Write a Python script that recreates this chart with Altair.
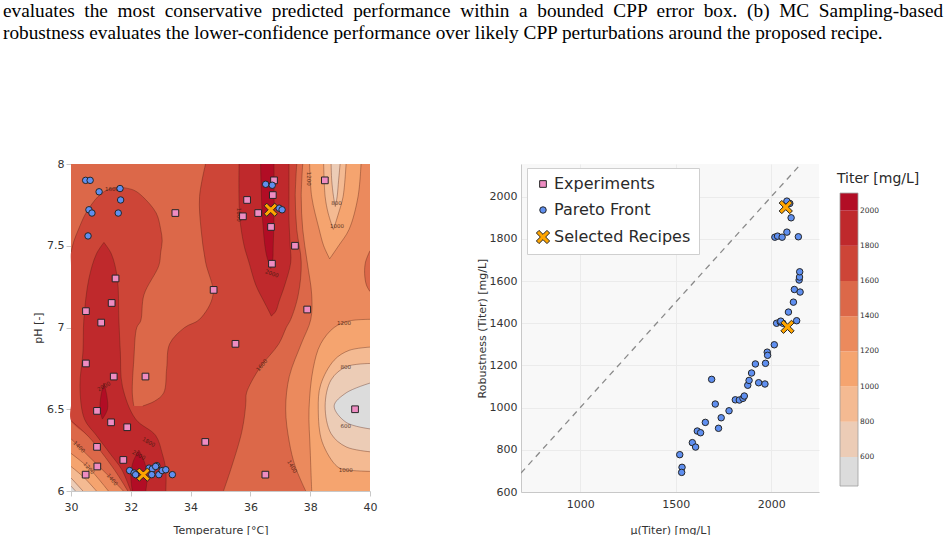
import altair as alt
import pandas as pd

FONT = "DejaVu Sans"

# Caption lines; the first line is set with wider word gaps (four-per-em
# spaces) so that it runs the full width like a justified paragraph line.
GAP = " \u2005"
CAPTION = [
    GAP.join("evaluates the most conservative predicted performance within a bounded "
             "CPP error box. (b) MC Sampling-based".split(" ")),
    "robustness evaluates the lower-confidence performance over likely CPP perturbations around the proposed recipe.",
]

# Titer colour bands [mg/L]
LEVELS = [0, 1, 2, 3, 4, 5, 6, 7, 8]
BAND_LOW = [435, 600, 800, 1000, 1200, 1400, 1600, 1800, 2000]
BAND_HIGH = [600, 800, 1000, 1200, 1400, 1600, 1800, 2000, 2100]
BAND_COLORS = ["#dcdcdc", "#ecccb6", "#f4ba92", "#f5a46f", "#eb8a5d",
               "#dc6849", "#cd4537", "#bf292c", "#b20d25"]
BAND_TICKS = [600, 800, 1000, 1200, 1400, 1600, 1800, 2000]

# Predicted titer surface over (Temperature, pH): each region is a band of
# constant level, given row by row as pH with its temperature extent.
# Regions are painted in order (lower bands first on the edges, peaks last).
REGIONS = [
    ("r4_right", 4, [6.0, 6.15, 6.3, 6.5, 6.7, 6.9, 7.05, 7.2, 7.4, 7.6, 7.8, 8.0],
     [37.85, 37.5, 37.3, 37.18, 37.3, 37.7, 38.02, 38.05, 37.9, 37.75, 37.7, 37.75],
     [40, 40, 40, 40, 40, 40, 40, 40, 40, 40, 40, 40]),
    ("r4_corner", 4, [6.0, 6.07, 6.27, 6.32],
     [30, 30, 30, 30], [31.75, 31.38, 30.27, 30.0]),
    ("r3_basin", 3, [6.0, 6.25, 6.5, 6.75, 6.9, 7.0, 7.04, 7.05],
     [38.05, 38.0, 37.96, 38.1, 38.35, 38.8, 39.3, 40],
     [40, 40, 40, 40, 40, 40, 40, 40]),
    ("r3_top", 3, [7.42, 7.5, 7.6, 7.8, 8.0],
     [38.65, 38.45, 38.3, 38.05, 37.98], [38.65, 38.95, 39.3, 39.6, 39.7]),
    ("r3_corner", 3, [6.0, 6.14, 6.23], [30, 30, 30], [31.25, 30.6, 30.0]),
    ("r2_basin", 2, [6.12, 6.13, 6.15, 6.3, 6.5, 6.65, 6.8, 6.86, 6.88],
     [40, 39.2, 38.9, 38.4, 38.27, 38.35, 38.8, 39.3, 40],
     [40, 40, 40, 40, 40, 40, 40, 40, 40]),
    ("r2_top", 2, [7.6, 7.7, 7.8, 8.0],
     [38.77, 38.6, 38.5, 38.45], [38.78, 38.95, 39.1, 39.2]),
    ("r2_corner", 2, [6.0, 6.08, 6.15], [30, 30, 30], [30.85, 30.45, 30.0]),
    ("r1_basin", 1, [6.24, 6.27, 6.35, 6.52, 6.68, 6.76, 6.78],
     [40, 39.2, 38.7, 38.5, 38.7, 39.2, 40], [40, 40, 40, 40, 40, 40, 40]),
    ("r1_top", 1, [7.74, 7.8, 7.9, 8.0],
     [38.84, 38.78, 38.72, 38.7], [38.84, 38.9, 38.95, 39.0]),
    ("r1_corner", 1, [6.0, 6.08], [30, 30], [30.4, 30.0]),
    ("r0_basin", 0, [6.38, 6.42, 6.52, 6.6, 6.66],
     [40, 39.2, 38.8, 39.2, 40], [40, 40, 40, 40, 40]),
    ("r0_corner", 0, [6.0, 6.03], [30, 30], [30.15, 30.0]),
    ("r5_edge", 5, [7.22, 7.26, 7.33, 7.4, 7.47],
     [40, 39.88, 39.82, 39.85, 40], [40, 40, 40, 40, 40]),
    ("r6_left", 6, [6.52, 6.6, 6.8, 7.0, 7.04, 7.2, 7.38, 7.46, 7.53, 7.6, 7.7, 7.8, 7.84, 7.86],
     [30, 30, 30, 30, 30, 30, 30, 30, 30.1, 30.25, 30.5, 30.9, 31.2, 31.6],
     [32.1, 32.05, 32.1, 32.2, 32.33, 32.44, 32.94, 33.0, 33.05, 33.0, 32.85, 32.4, 32.1, 31.6]),
    ("r6_ridge", 6, [6.52, 6.55, 6.6, 6.75, 6.9, 7.0, 7.05, 7.2, 7.4, 7.6, 7.8, 8.0],
     [32.4, 32.8, 33.1, 33.2, 33.3, 33.8, 34.3, 34.75, 34.5, 34.35, 34.3, 34.5],
     [35.84, 35.85, 35.87, 36.3, 36.95, 37.2, 37.35, 37.6, 37.7, 37.55, 37.5, 37.55]),
    ("r6_bottom", 6, [6.0, 6.13, 6.33, 6.43, 6.52],
     [31.9, 31.45, 30.6, 30.0, 30.0], [35.1, 35.34, 35.67, 35.78, 35.84]),
    ("r7_left", 7, [6.0, 6.13, 6.23, 6.34, 6.44, 6.64, 6.85, 7.05, 7.3, 7.45, 7.52],
     [32.0, 31.7, 31.3, 30.85, 30.45, 30.3, 30.4, 30.43, 30.6, 30.85, 31.1],
     [33.17, 33.17, 33.05, 32.83, 32.16, 31.72, 31.65, 31.6, 31.55, 31.35, 31.1]),
    ("r7_ridge", 7, [7.07, 7.1, 7.16, 7.26, 7.4, 7.5, 7.66, 7.78, 8.0],
     [36.7, 36.62, 36.45, 36.18, 35.95, 35.79, 35.65, 35.62, 35.62],
     [36.7, 36.85, 36.96, 37.15, 37.35, 37.33, 37.29, 37.29, 37.29]),
    ("r8_ridge", 8, [7.36, 7.42, 7.48, 7.68, 8.0],
     [36.68, 36.57, 36.5, 36.4, 36.34], [36.68, 36.75, 36.76, 36.79, 36.79]),
    ("r8_spot", 8, [6.44, 6.5, 6.58, 6.66],
     [31.05, 30.97, 31.0, 31.1], [31.05, 31.22, 31.2, 31.1]),
    ("r8_bottom", 8, [6.0, 6.1, 6.18, 6.25],
     [32.05, 32.0, 32.08, 32.27], [32.5, 32.55, 32.45, 32.27]),
]

# Inline contour labels
CLABEL_T = [31.37, 35.62, 36.72, 37.96, 38.88, 38.9, 39.13, 39.19, 39.19, 39.19,
            37.4, 36.38, 31.1, 32.6, 32.27, 30.27, 30.6, 31.38]
CLABEL_PH = [7.85, 7.69, 7.33, 7.91, 7.76, 7.62, 7.03, 6.76, 6.40, 6.13,
             6.15, 6.77, 6.64, 6.30, 6.22, 6.27, 6.14, 6.07]
CLABEL_TEXT = ["1600", "1800", "2000", "1200", "800", "1000", "1200", "800", "600", "1000",
               "1400", "1600", "2000", "1800", "2000", "1400", "1200", "1400"]
CLABEL_ANGLE = [0, 90, 20, 90, 0, 0, 0, 0, 0, 0,
                60, 310, 330, 30, 30, 45, 50, 50]

# Experiments in the design space
EXP_T = [33.49, 36.79, 35.89, 36.75, 35.75, 36.26, 36.69, 37.49, 36.72, 31.49,
         34.77, 31.36, 30.50, 31.01, 37.90, 38.49, 35.50, 30.50, 31.43, 32.49,
         30.87, 31.34, 31.88, 34.49, 30.87, 31.75, 30.88, 30.49, 36.50, 39.50]
EXP_PH = [7.70, 7.90, 7.78, 7.81, 7.68, 7.70, 7.615, 7.50, 7.39, 7.30,
          7.23, 7.15, 7.10, 7.03, 7.11, 7.90, 6.90, 6.78, 6.70, 6.70,
          6.49, 6.42, 6.39, 6.30, 6.27, 6.19, 6.15, 6.10, 6.10, 6.50]

# Pareto-optimal recipes in the design space
PARETO_T = [30.49, 30.64, 30.94, 31.64, 31.66, 30.60, 30.70, 31.58, 30.57,
            36.51, 36.73, 36.96, 37.06,
            31.96, 32.11, 32.16, 32.61, 32.72, 32.87, 32.94, 33.05, 33.17, 33.39, 32.70, 32.83]
PARETO_PH = [7.90, 7.90, 7.83, 7.85, 7.78, 7.72, 7.70, 7.70, 7.56,
             7.876, 7.87, 7.73, 7.72,
             6.125, 6.11, 6.10, 6.14, 6.135, 6.155, 6.10, 6.125, 6.13, 6.10, 6.10, 6.15]
SEL_T = [36.68, 32.42]
SEL_PH = [7.72, 6.10]

# Pareto front in objective space: mean titer vs robustness
PARETO_MU = [1521, 1533, 1531, 1587, 1604, 1613, 1630, 1655, 1688, 1707, 1724, 1738,
             1779, 1812, 1833, 1852, 1859, 1877, 1884, 1897, 1917, 1934, 1967, 1970,
             1979, 1981, 2016, 2028, 2047, 2061, 2090, 2116, 2133, 2121, 2151, 2146,
             2148, 2149, 2019, 2033, 2057, 2082, 2142, 2104, 2085, 2097, 2082, 2050]
PARETO_ROB = [777, 717, 693, 834, 813, 889, 881, 930, 1134, 1017, 902, 952,
              985, 1037, 1036, 1044, 1055, 1106, 1129, 1164, 1207, 1118, 1112, 1210,
              1263, 1248, 1298, 1400, 1407, 1400, 1453, 1500, 1412, 1560, 1548, 1605,
              1619, 1644, 1808, 1813, 1808, 1832, 1810, 1900, 1971, 1968, 1979, 1410]
SEL_MU = [2076, 2085]
SEL_ROB = [1951, 1383]
DIAG = [690, 2155]

KINDS = ["Experiments", "Pareto Front", "Selected Recipes"]
KIND_COLORS = ["#ee8cc2", "#5f8ff0", "#ffa500"]
X_PATH = "M-1,-0.6L-0.6,-1L0,-0.4L0.6,-1L1,-0.6L0.4,0L1,0.6L0.6,1L0,0.4L-0.6,1L-1,0.6L-0.4,0Z"
KIND_SHAPES = ["square", "circle", X_PATH]
KIND_SIZES = [45, 42, 175]

# ---------------------------------------------------------------- data frames
rows, line_rows = [], []
for k, (name, level, ph, lo, hi) in enumerate(REGIONS):
    for p, a, b in zip(ph, lo, hi):
        rows.append(dict(region=name, paint=k, level=level, ph=p, t_lo=a, t_hi=b))
    # contour lines along the region sides that are not on the plot border
    for side, ts, edge in (("lo", lo, 30.0), ("hi", hi, 40.0)):
        n = len(ts)
        inner = [abs(t - edge) > 1e-9 for t in ts]
        keep = [inner[i] or (i > 0 and inner[i - 1]) or (i < n - 1 and inner[i + 1])
                for i in range(n)]
        seg = 0
        for i in range(n):
            if keep[i]:
                line_rows.append(dict(seg=f"{name}_{side}_{seg}", ph=ph[i], t=ts[i]))
            elif i > 0 and keep[i - 1]:
                seg += 1
surface = pd.DataFrame(rows)
contours = pd.DataFrame(line_rows)
frame = pd.DataFrame({"t0": [30], "t1": [40], "p0": [6], "p1": [8], "level": [5]})
clabels = pd.DataFrame({"t": CLABEL_T, "ph": CLABEL_PH, "txt": CLABEL_TEXT, "ang": CLABEL_ANGLE})

design_pts = pd.concat([
    pd.DataFrame({"t": EXP_T, "ph": EXP_PH, "kind": KINDS[0]}),
    pd.DataFrame({"t": PARETO_T, "ph": PARETO_PH, "kind": KINDS[1]}),
    pd.DataFrame({"t": SEL_T, "ph": SEL_PH, "kind": KINDS[2]}),
], ignore_index=True)
objective_pts = pd.concat([
    pd.DataFrame({"mu": PARETO_MU, "rob": PARETO_ROB, "kind": KINDS[1]}),
    pd.DataFrame({"mu": SEL_MU, "rob": SEL_ROB, "kind": KINDS[2]}),
], ignore_index=True)
diag = pd.DataFrame({"mu": DIAG, "rob": DIAG})
bands = pd.DataFrame({"lo": BAND_LOW, "hi": BAND_HIGH, "level": LEVELS})
band_ticks = pd.DataFrame({"v": BAND_TICKS, "txt": [str(v) for v in BAND_TICKS]})

# ---------------------------------------------------------------- scales
level_fill = alt.Scale(domain=LEVELS, range=BAND_COLORS)
t_scale = alt.Scale(domain=[30, 40], nice=False, zero=False)
ph_scale = alt.Scale(domain=[6, 8], nice=False, zero=False)
kind_color = alt.Scale(domain=KINDS, range=KIND_COLORS)
kind_shape = alt.Scale(domain=KINDS, range=KIND_SHAPES)
kind_size = alt.Scale(type="ordinal", domain=KINDS, range=KIND_SIZES)

t_axis = alt.Axis(values=[30, 32, 34, 36, 38, 40], title="Temperature [°C]",
                  tickSize=5, labelPadding=5, titlePadding=12, grid=False)
ph_axis = alt.Axis(values=[6, 6.5, 7, 7.5, 8], format="~g", title="pH [-]",
                   tickSize=5, labelPadding=2, minExtent=25, maxExtent=25,
                   titlePadding=3, grid=False)

# ---------------------------------------------------------------- (a) design space
base_rect = alt.Chart(frame).mark_rect().encode(
    x=alt.X("t0:Q", scale=t_scale, axis=t_axis),
    x2="t1:Q",
    y=alt.Y("p0:Q", scale=ph_scale, axis=ph_axis),
    y2="p1:Q",
    fill=alt.Fill("level:O", scale=level_fill, legend=None),
)

area_layers = []
for k, (name, level, _, _, _) in enumerate(REGIONS):
    area_layers.append(
        alt.Chart(surface).transform_filter(alt.datum.paint == k)
        .mark_area(orient="horizontal", interpolate="catmull-rom",
                   fill=BAND_COLORS[level], opacity=1)
        .encode(
            y=alt.Y("ph:Q", scale=ph_scale),
            x=alt.X("t_lo:Q", scale=t_scale),
            x2=alt.X2("t_hi:Q"),
        )
    )

contour_lines = alt.Chart(contours).mark_line(
    interpolate="catmull-rom", color="#4f1c12", strokeWidth=0.6, opacity=0.6, clip=True
).encode(
    x=alt.X("t:Q", scale=t_scale),
    y=alt.Y("ph:Q", scale=ph_scale),
    detail="seg:N",
    order=alt.Order("ph:Q"),
)

contour_text = alt.Chart(clabels).mark_text(
    font=FONT, fontSize=5.5, color="#3a1a10", opacity=0.8
).encode(
    x=alt.X("t:Q", scale=t_scale),
    y=alt.Y("ph:Q", scale=ph_scale),
    text="txt:N",
    angle=alt.Angle("ang:Q", scale=None),
)

design_marks = alt.Chart(design_pts).mark_point(
    filled=True, opacity=1, stroke="#262626", strokeWidth=1
).encode(
    x=alt.X("t:Q", scale=t_scale),
    y=alt.Y("ph:Q", scale=ph_scale),
    color=alt.Color("kind:N", scale=kind_color, legend=None),
    shape=alt.Shape("kind:N", scale=kind_shape, legend=None),
    size=alt.Size("kind:N", scale=kind_size, legend=None),
)

panel_a = alt.layer(base_rect, *area_layers, contour_lines, contour_text, design_marks).properties(
    width=299, height=327
)

# ---------------------------------------------------------------- (b) objective space
mu_scale = alt.Scale(domain=[690, 2250], nice=False, zero=False)
rob_scale = alt.Scale(domain=[600, 2155], nice=False, zero=False)
mu_axis = alt.Axis(values=[1000, 1500, 2000], format="d", title="μ(Titer) [mg/L]",
                   ticks=False, tickSize=0, labelPadding=6, titlePadding=15,
                   grid=True, gridColor="#ebebeb")
rob_axis = alt.Axis(values=[600, 800, 1000, 1200, 1400, 1600, 1800, 2000], format="d",
                    title="Robustness (Titer) [mg/L]", ticks=False, tickSize=0,
                    labelPadding=4, minExtent=34, maxExtent=34, titlePadding=0,
                    grid=True, gridColor="#ebebeb")

diag_line = alt.Chart(diag).mark_line(
    color="#8a8a8a", strokeDash=[6, 5], strokeWidth=1.3, clip=True
).encode(
    x=alt.X("mu:Q", scale=mu_scale, axis=mu_axis),
    y=alt.Y("rob:Q", scale=rob_scale, axis=rob_axis),
)

legend = alt.Legend(
    title=None, orient="none", legendX=6, legendY=4, fillColor="white",
    strokeColor="#cfcfcf", padding=8, labelFont=FONT, labelFontSize=16,
    labelColor="#2a2a2a", rowPadding=10, labelOffset=3,
    symbolStrokeColor="#262626", symbolStrokeWidth=1,
)
objective_marks = alt.Chart(objective_pts).mark_point(
    filled=True, opacity=1, stroke="#262626", strokeWidth=1
).encode(
    x=alt.X("mu:Q", scale=mu_scale),
    y=alt.Y("rob:Q", scale=rob_scale),
    color=alt.Color("kind:N", scale=kind_color, legend=legend),
    shape=alt.Shape("kind:N", scale=kind_shape, legend=legend),
    size=alt.Size("kind:N", scale=kind_size, legend=legend),
)

panel_b = alt.layer(diag_line, objective_marks).properties(
    width=298, height=328,
    view=alt.ViewBackground(fill="#f8f8f8", stroke=None),
)

# ---------------------------------------------------------------- colour bar
cb_scale = alt.Scale(domain=[401, 2265], nice=False, zero=False)
cb_rects = alt.Chart(bands).mark_rect().encode(
    y=alt.Y("lo:Q", scale=cb_scale, axis=None),
    y2="hi:Q",
    x=alt.value(3), x2=alt.value(21),
    fill=alt.Fill("level:O", scale=level_fill, legend=None),
)
cb_frame = alt.Chart(pd.DataFrame({"lo": [BAND_LOW[0]], "hi": [BAND_HIGH[-1]]})).mark_rect(
    fill=None, stroke="#a0a0a0", strokeWidth=0.8
).encode(
    y=alt.Y("lo:Q", scale=cb_scale, axis=None), y2="hi:Q",
    x=alt.value(3), x2=alt.value(21),
)
cb_labels = alt.Chart(band_ticks).mark_text(
    align="left", baseline="middle", font=FONT, fontSize=7.5, color="#333"
).encode(
    y=alt.Y("v:Q", scale=cb_scale, axis=None), x=alt.value(23), text="txt:N",
)
cb_title = alt.Chart(pd.DataFrame({"txt": ["Titer [mg/L]"]})).mark_text(
    align="left", baseline="middle", font=FONT, fontSize=14, color="#2a2a2a"
).encode(x=alt.value(0), y=alt.value(15), text="txt:N")

colorbar = alt.layer(cb_rects, cb_frame, cb_labels, cb_title).properties(width=100, height=328)

# ---------------------------------------------------------------- assemble
chart = alt.hconcat(
    panel_a,
    alt.hconcat(panel_b, colorbar, spacing=18),
    spacing=99,
).resolve_scale(
    color="independent", shape="independent", size="independent", fill="independent"
).resolve_legend(
    color="independent", shape="independent", size="independent", fill="independent"
).properties(
    title=alt.TitleParams(
        text=CAPTION, anchor="start", font="Liberation Serif", fontSize=19.3,
        fontWeight="normal", color="#000000", lineHeight=22, offset=115, dx=-29,
    ),
    padding={"left": 3, "top": 1, "right": 0, "bottom": 0},
).configure_view(
    stroke=None
).configure_axis(
    labelFont=FONT, titleFont=FONT, labelFontSize=11, titleFontSize=11,
    titleFontWeight="normal", labelColor="#333333", titleColor="#333333",
    domainColor="#c8c8c8", tickColor="#c8c8c8", labelFlush=False,
)

chart.save("out.html", embed_options={"renderer": "svg", "actions": False})
